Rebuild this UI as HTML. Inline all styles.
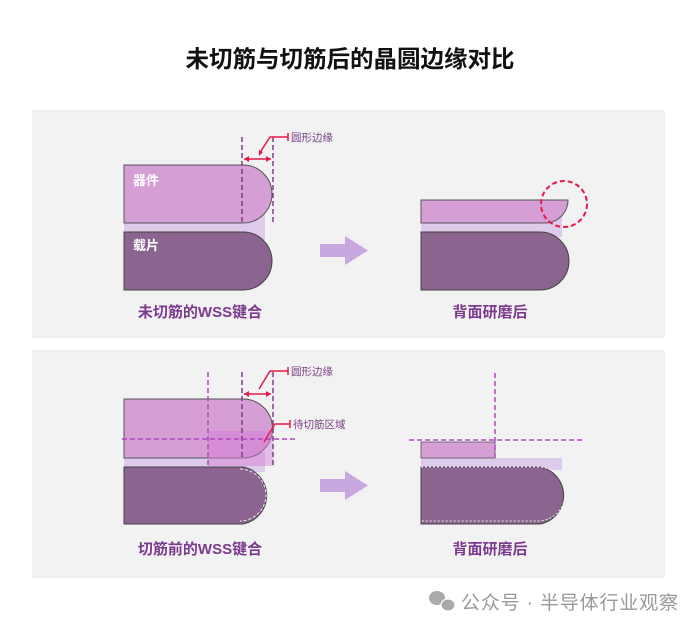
<!DOCTYPE html>
<html><head><meta charset="utf-8"><style>
body{margin:0;width:700px;height:630px;background:#fff;overflow:hidden;font-family:"Liberation Sans","Noto Sans CJK SC",sans-serif}
</style></head><body>
<svg width="700" height="630" xmlns="http://www.w3.org/2000/svg" font-family="Liberation Sans, Noto Sans CJK SC, sans-serif">
<text x="350" y="67" text-anchor="middle" font-size="23.5" font-weight="bold" fill="#111">未切筋与切筋后的晶圆边缘对比</text>
<rect x="32" y="110" width="633" height="228" fill="#f2f2f2"/>
<rect x="32" y="350" width="633" height="228" fill="#f2f2f2"/>
<!-- panel 1 left -->
<rect x="124" y="212" width="141" height="28" fill="#dccbea"/>
<path d="M124 165H243A29 29 0 0 1 243 223H124Z" fill="#d59fd6" stroke="#555" stroke-width="1"/>
<path d="M124 232H243A29 29 0 0 1 243 290H124Z" fill="#8c6490" stroke="#444" stroke-width="1"/>
<line x1="242" y1="137" x2="242" y2="223" stroke="#7a3f84" stroke-width="1.5" stroke-dasharray="5,3"/>
<line x1="273" y1="137" x2="273" y2="222" stroke="#7a3f84" stroke-width="1.5" stroke-dasharray="5,3"/>
<line x1="244" y1="159" x2="271" y2="159" stroke="#e8194a" stroke-width="1.5"/>
<path d="M244 159l5-3v6zM271 159l-5-3v6z" fill="#e8194a"/>
<polyline points="259,154 270,137 288,137" fill="none" stroke="#e8194a" stroke-width="1.5"/>
<path d="M259 156l0-6 4 2z" fill="#e8194a"/><line x1="288" y1="133" x2="288" y2="141" stroke="#e8194a" stroke-width="1.5"/>
<text x="291" y="141" font-size="10.5" fill="#7a3f84">圆形边缘</text>
<text x="133" y="185" font-size="13" font-weight="bold" fill="#fff">器件</text>
<text x="133" y="250" font-size="13" font-weight="bold" fill="#fff">载片</text>
<text x="200" y="317" text-anchor="middle" font-size="15" font-weight="bold" fill="#7b3a8e">未切筋的WSS键合</text>
<path d="M320 244H345V236L368 250.5L345 265V257H320Z" fill="#c9a8e0"/>
<!-- panel 1 right -->
<rect x="421" y="215" width="141" height="22" fill="#dccbea"/>
<path d="M421 200H568A23 23 0 0 1 545 223H421Z" fill="#d59fd6" stroke="#555" stroke-width="1"/>
<path d="M421 232H540A29 29 0 0 1 540 290H421Z" fill="#8c6490" stroke="#444" stroke-width="1"/>
<circle cx="564" cy="204" r="23" fill="none" stroke="#e8194a" stroke-width="2" stroke-dasharray="5,3"/>
<text x="490" y="317" text-anchor="middle" font-size="15" font-weight="bold" fill="#7b3a8e">背面研磨后</text>
<!-- panel 2 left -->
<rect x="124" y="452" width="141" height="20" fill="#dccbea"/>
<path d="M124 399H243A29 29 0 0 1 243 458H124Z" fill="#d59fd6" stroke="#555" stroke-width="1"/>
<path d="M124 467H243A29 29 0 0 1 243 524H124Z" fill="#8c6490" stroke="#444" stroke-width="1"/>
<path d="M240 469A26 26 0 0 1 240 521" fill="none" stroke="#eee" stroke-width="1" stroke-dasharray="3,2"/>
<rect x="208" y="431" width="65" height="35" fill="#d47ad6" opacity="0.45"/>
<line x1="208" y1="372" x2="208" y2="465" stroke="#b347c0" stroke-width="1.5" stroke-dasharray="5,3"/>
<line x1="242" y1="372" x2="242" y2="458" stroke="#7a3f84" stroke-width="1.5" stroke-dasharray="5,3"/>
<line x1="273" y1="372" x2="273" y2="465" stroke="#7a3f84" stroke-width="1.5" stroke-dasharray="5,3"/>
<line x1="122" y1="439" x2="296" y2="439" stroke="#b347c0" stroke-width="1.5" stroke-dasharray="5,3"/>
<line x1="244" y1="394" x2="271" y2="394" stroke="#e8194a" stroke-width="1.5"/>
<path d="M244 394l5-3v6zM271 394l-5-3v6z" fill="#e8194a"/>
<polyline points="259,389 270,371 288,371" fill="none" stroke="#e8194a" stroke-width="1.5"/>
<line x1="288" y1="367" x2="288" y2="375" stroke="#e8194a" stroke-width="1.5"/>
<text x="291" y="375" font-size="10.5" fill="#7a3f84">圆形边缘</text>
<polyline points="264,442 275,424 290,424" fill="none" stroke="#e8194a" stroke-width="1.5"/>
<line x1="290" y1="420" x2="290" y2="428" stroke="#e8194a" stroke-width="1.5"/>
<text x="293" y="428" font-size="10.5" fill="#7a3f84">待切筋区域</text>
<text x="200" y="554" text-anchor="middle" font-size="15" font-weight="bold" fill="#7b3a8e">切筋前的WSS键合</text>
<path d="M320 479H345V471L368 485.5L345 500V492H320Z" fill="#c9a8e0"/>
<!-- panel 2 right -->
<rect x="421" y="458" width="141" height="12" fill="#dccbea"/>
<rect x="421" y="442" width="74" height="16" fill="#d59fd6" stroke="#555" stroke-width="0.8"/>
<path d="M421 467H540A29 29 0 0 1 540 524H421Z" fill="#8c6490" stroke="#444" stroke-width="1"/>
<path d="M421 467H538A26 26 0 0 1 538 521H421" fill="none" stroke="#eee" stroke-width="1" stroke-dasharray="2,2"/>
<line x1="495" y1="373" x2="495" y2="458" stroke="#b347c0" stroke-width="1.5" stroke-dasharray="5,3"/>
<line x1="409" y1="440" x2="583" y2="440" stroke="#b347c0" stroke-width="1.5" stroke-dasharray="5,3"/>
<text x="490" y="554" text-anchor="middle" font-size="15" font-weight="bold" fill="#7b3a8e">背面研磨后</text>
<!-- watermark -->
<ellipse cx="437" cy="598" rx="8" ry="7" fill="#aaa"/><ellipse cx="448" cy="605" rx="7" ry="6" fill="#aaa" stroke="#fff" stroke-width="1.2"/>
<text x="461" y="609" font-size="19" fill="#9a9a9a" textLength="217">公众号 · 半导体行业观察</text>
</svg>
</body></html>
